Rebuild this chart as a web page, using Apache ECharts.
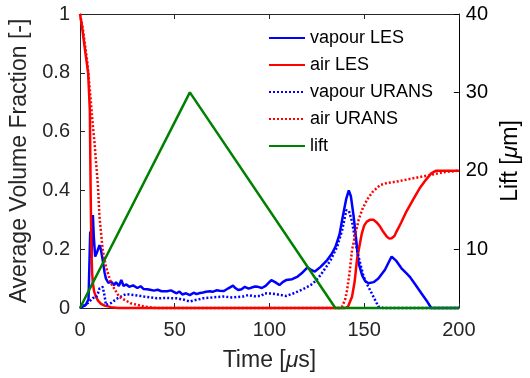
<!DOCTYPE html>
<html>
<head>
<meta charset="utf-8">
<script src="https://cdn.jsdelivr.net/npm/echarts@6/dist/echarts.min.js"></script>
<style>
  html, body { margin: 0; padding: 0; background: #fff; }
  #chart { width: 530px; height: 378px; }
</style>
</head>
<body>
<div id="chart"></div>
<script>
// Time axis ticks [µs]
const timeTicks = [0, 50, 100, 150, 200];
const fractionTicks = [0, 0.2, 0.4, 0.6, 0.8, 1];
const liftTicks = [10, 20, 30, 40];

// vapour LES
const vapourLesT = [0, 3, 4.5, 5.4, 6, 6.8, 7.3, 8, 9, 10.3, 11, 12, 13, 13.7, 15, 16.4, 18, 19, 20.5, 21.8, 23, 24.5, 26, 28, 30.3, 32, 33.5, 35.5, 37, 39, 41, 43, 46, 48, 49.5, 51, 52.5, 54, 56, 58, 60, 61.5, 63.3, 65, 66.5, 68.6, 70, 72, 73.8, 76, 78.3, 80.8, 82, 83.5, 85.3, 87, 89, 92.3, 94, 96, 98, 101, 103, 105.3, 107, 108.8, 112, 114.9, 117, 120.1, 122, 124, 127, 130.5, 133, 134.9, 137, 138.4, 140.5, 141.9, 143, 144.5, 146, 147.1, 149, 150.5, 152.3, 155, 157.5, 161, 164.5, 167, 169.7, 172, 174, 177, 180.2, 183, 185.4, 190, 200];
const vapourLesV = [0, 0.01, 0.03, 0.26, 0.17, 0.316, 0.24, 0.175, 0.19, 0.214, 0.2, 0.163, 0.12, 0.10, 0.085, 0.09, 0.078, 0.088, 0.075, 0.095, 0.075, 0.08, 0.072, 0.077, 0.068, 0.074, 0.065, 0.064, 0.062, 0.059, 0.062, 0.057, 0.057, 0.06, 0.055, 0.05, 0.056, 0.046, 0.05, 0.044, 0.052, 0.047, 0.051, 0.053, 0.055, 0.057, 0.055, 0.06, 0.059, 0.058, 0.067, 0.076, 0.068, 0.061, 0.064, 0.072, 0.066, 0.073, 0.072, 0.068, 0.075, 0.095, 0.088, 0.078, 0.088, 0.095, 0.098, 0.107, 0.118, 0.138, 0.13, 0.124, 0.14, 0.163, 0.185, 0.209, 0.25, 0.30, 0.37, 0.40, 0.38, 0.31, 0.22, 0.152, 0.11, 0.092, 0.084, 0.088, 0.10, 0.13, 0.175, 0.16, 0.135, 0.12, 0.107, 0.08, 0.05, 0.025, 0, 0, 0];

// air LES
const airLesT = [0, 1, 2.6, 4.3, 5.2, 5.6, 6.0, 6.4, 6.8, 7.5, 8.5, 9.5, 11.1, 13, 16.4, 20, 140, 141.5, 143.6, 145, 146.2, 147.5, 148.8, 150, 151.4, 153, 154.9, 156.5, 158.4, 160, 161.9, 163.3, 164.5, 166, 167.1, 169.5, 172.3, 176, 179.3, 182.5, 185.4, 188, 192, 200];
const airLesV = [1, 0.96, 0.88, 0.80, 0.67, 0.41, 0.2, 0.12, 0.084, 0.055, 0.038, 0.025, 0.014, 0.008, 0.003, 0, 0, 0.005, 0.038, 0.09, 0.163, 0.21, 0.254, 0.28, 0.294, 0.30, 0.30, 0.292, 0.277, 0.26, 0.243, 0.236, 0.237, 0.245, 0.26, 0.29, 0.328, 0.37, 0.407, 0.435, 0.458, 0.467, 0.467, 0.467];

// vapour URANS
const vapourUransT = [0, 2, 4.2, 6.8, 8.4, 9.5, 10.3, 12, 13, 13.7, 16.4, 19.8, 22, 24.2, 28.6, 33.8, 40.7, 46, 51, 55, 58, 61, 65, 70, 75.5, 80, 86, 88.8, 92, 95.7, 97.5, 101, 104.4, 108.8, 112, 114.9, 118, 121.8, 124, 127, 130, 132.3, 135.8, 138.4, 140.6, 141, 142, 143.6, 146.2, 148, 149.7, 152, 154, 157.5, 160, 200];
const vapourUransV = [0, 0.008, 0.017, 0.034, 0.035, 0.05, 0.067, 0.072, 0.04, 0.01, 0.017, 0.033, 0.04, 0.047, 0.044, 0.039, 0.033, 0.034, 0.033, 0.028, 0.022, 0.027, 0.033, 0.036, 0.039, 0.036, 0.039, 0.044, 0.04, 0.041, 0.05, 0.049, 0.046, 0.041, 0.048, 0.056, 0.065, 0.078, 0.09, 0.112, 0.14, 0.163, 0.209, 0.265, 0.333, 0.339, 0.33, 0.294, 0.197, 0.15, 0.107, 0.075, 0.05, 0.005, 0, 0];

// air URANS
const airUransT = [0, 1.5, 3.8, 5.5, 6.8, 7.7, 8.4, 9.4, 10.3, 12, 13.7, 16.4, 20.7, 26.8, 33.8, 40, 137, 138.4, 140, 141, 142.3, 143.6, 145.3, 147.1, 149, 151.4, 154.5, 158.4, 162, 167.1, 175.8, 184.5, 192, 200];
const airUransV = [1, 0.95, 0.84, 0.72, 0.62, 0.56, 0.5, 0.424, 0.31, 0.197, 0.14, 0.084, 0.038, 0.016, 0.005, 0, 0, 0.005, 0.03, 0.061, 0.12, 0.197, 0.25, 0.30, 0.335, 0.367, 0.395, 0.418, 0.425, 0.43, 0.441, 0.452, 0.462, 0.467];

// lift [µm]
const liftT = [0, 58, 134.8, 200];
const liftV = [2.5, 30, 2.5, 2.5];

const zip = (t, v) => t.map((x, i) => [x, v[i]]);

const FONT = '"Liberation Sans", Arial, Helvetica, sans-serif';
const AX = '#262626';

function line(name, t, v, color, type, yIndex) {
  return {
    name: name,
    type: 'line',
    data: zip(t, v),
    yAxisIndex: yIndex || 0,
    showSymbol: false,
    symbol: 'none',
    clip: false,
    animation: false,
    lineStyle: { color: color, width: 2.5, type: type },
    itemStyle: { color: color }
  };
}

const chart = echarts.init(document.getElementById('chart'), null, { renderer: 'canvas' });

chart.setOption({
  backgroundColor: '#fff',
  animation: false,
  textStyle: { fontFamily: FONT },
  grid: { left: 80, right: 67, top: 14, bottom: 70, containLabel: false },
  legend: {
    left: 263,
    top: 24,
    orient: 'vertical',
    itemWidth: 36,
    itemHeight: 14,
    itemGap: 9,
    itemStyle: { opacity: 0 },
    textStyle: { fontFamily: FONT, fontSize: 18, color: '#000' },
    data: ['vapour LES', 'air LES', 'vapour URANS', 'air URANS', 'lift']
  },
  xAxis: [{
    type: 'value',
    min: 0, max: 200, interval: 50,
    name: 'Time [{m|μ}s]',
    nameLocation: 'middle',
    nameGap: 41,
    nameTextStyle: { fontFamily: FONT, fontSize: 23, color: AX,
      rich: { m: { fontFamily: FONT, fontSize: 23, fontStyle: 'italic', color: AX } } },
    axisLine: { show: true, onZero: false, lineStyle: { color: AX, width: 1 } },
    axisTick: { show: true, inside: true, length: 5, lineStyle: { color: AX } },
    axisLabel: { fontFamily: FONT, fontSize: 20, color: AX, margin: 12,
      customValues: timeTicks },
    splitLine: { show: false }
  }, {
    type: 'value',
    position: 'top',
    min: 0, max: 200, interval: 50,
    axisLine: { show: true, onZero: false, lineStyle: { color: AX, width: 1 } },
    axisTick: { show: true, inside: true, length: 5, lineStyle: { color: AX } },
    axisLabel: { show: false },
    splitLine: { show: false }
  }],
  yAxis: [{
    type: 'value',
    min: 0, max: 1, interval: 0.2,
    name: 'Average Volume Fraction [-]',
    nameLocation: 'middle',
    nameGap: 42,
    nameTextStyle: { fontFamily: FONT, fontSize: 23, color: AX },
    axisLine: { show: true, onZero: false, lineStyle: { color: AX, width: 1 } },
    axisTick: { show: true, inside: true, length: 5, lineStyle: { color: AX } },
    axisLabel: { fontFamily: FONT, fontSize: 20, color: AX, margin: 10,
      customValues: fractionTicks },
    splitLine: { show: false }
  }, {
    type: 'value',
    position: 'right',
    min: 2.5, max: 40,
    name: 'Lift [{m|μ}m]',
    nameLocation: 'middle',
    nameGap: 40,
    nameRotate: 90,
    nameTextStyle: { fontFamily: FONT, fontSize: 23, color: '#000',
      rich: { m: { fontFamily: FONT, fontSize: 23, fontStyle: 'italic', color: '#000' } } },
    axisLine: { show: true, onZero: false, lineStyle: { color: '#000', width: 1 } },
    axisTick: { show: true, inside: true, length: 5, lineStyle: { color: '#000' },
      customValues: liftTicks },
    axisLabel: { fontFamily: FONT, fontSize: 20, color: '#000', margin: 7,
      customValues: liftTicks },
    splitLine: { show: false }
  }],
  series: [
    line('vapour LES', vapourLesT, vapourLesV, '#0000ff', 'solid'),
    line('air LES', airLesT, airLesV, '#ff0000', 'solid'),
    line('vapour URANS', vapourUransT, vapourUransV, '#0000ff', [2, 2]),
    line('air URANS', airUransT, airUransV, '#ff0000', [2, 2]),
    line('lift', liftT, liftV, '#008000', 'solid', 1)
  ]
});
</script>
</body>
</html>
